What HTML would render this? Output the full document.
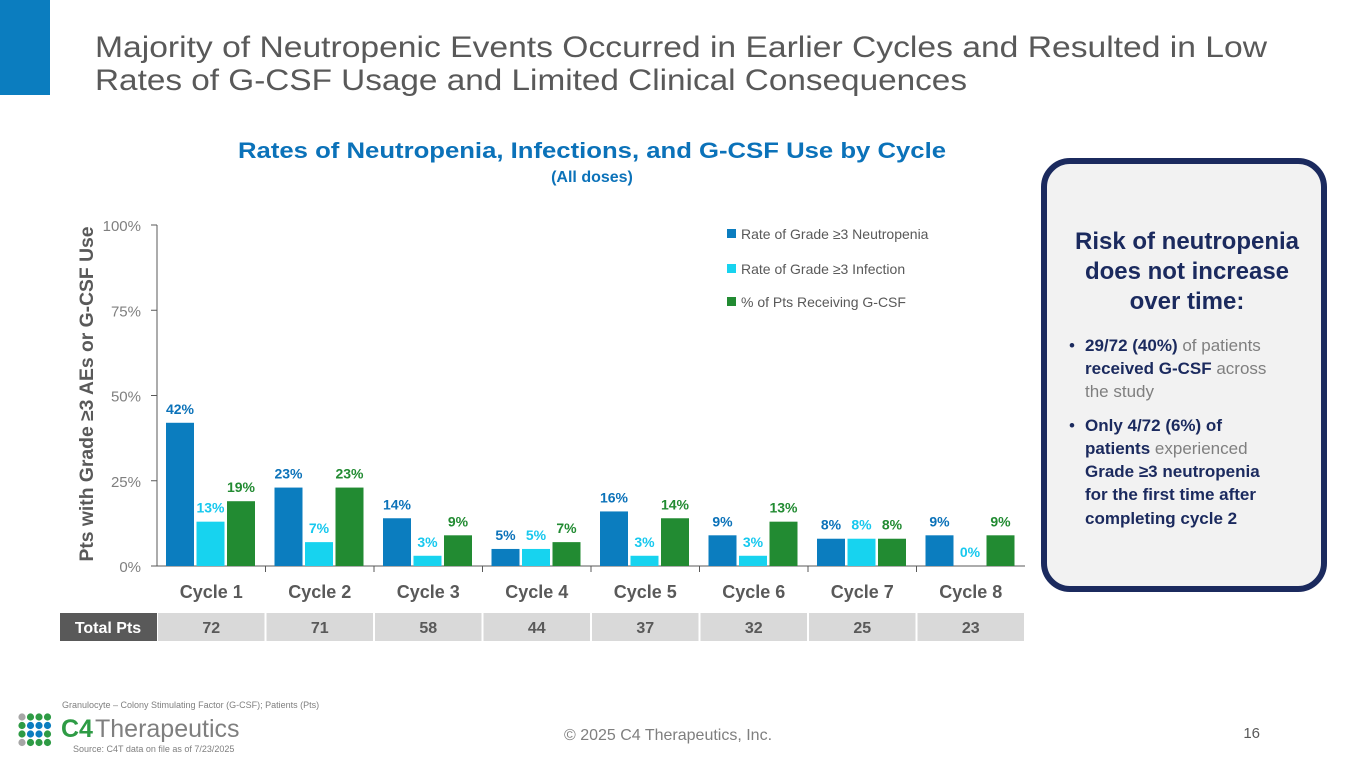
<!DOCTYPE html>
<html><head><meta charset="utf-8"><style>
html,body{margin:0;padding:0;background:#fff}
svg{display:block;font-family:"Liberation Sans",sans-serif}
</style></head><body>
<svg id="s" width="1365" height="768" viewBox="0 0 1365 768">
<rect x="0" y="0" width="50" height="95" fill="#0b7dbf"/>
<text x="95" y="57" font-size="30" fill="#595959" textLength="1172" lengthAdjust="spacingAndGlyphs">Majority of Neutropenic Events Occurred in Earlier Cycles and Resulted in Low</text>
<text x="95" y="90" font-size="30" fill="#595959" textLength="872" lengthAdjust="spacingAndGlyphs">Rates of G-CSF Usage and Limited Clinical Consequences</text>
<text x="592" y="158" font-size="22" font-weight="bold" fill="#0b72b9" text-anchor="middle" textLength="708" lengthAdjust="spacingAndGlyphs">Rates of Neutropenia, Infections, and G-CSF Use by Cycle</text>
<text x="592" y="182" font-size="16" font-weight="bold" fill="#0b72b9" text-anchor="middle">(All doses)</text>
<text transform="translate(93,394) rotate(-90)" font-size="19" font-weight="bold" fill="#595959" text-anchor="middle" textLength="335" lengthAdjust="spacingAndGlyphs">Pts with Grade ≥3 AEs or G-CSF Use</text>
<g id="chart"></g>
<g>
<rect x="727" y="229" width="9" height="9" fill="#0b7dbf"/>
<text x="741" y="239" font-size="14" fill="#595959">Rate of Grade ≥3 Neutropenia</text>
<rect x="727" y="264" width="9" height="9" fill="#17d3ef"/>
<text x="741" y="274" font-size="14" fill="#595959">Rate of Grade ≥3 Infection</text>
<rect x="727" y="297" width="9" height="9" fill="#228b32"/>
<text x="741" y="307" font-size="14" fill="#595959">% of Pts Receiving G-CSF</text>
</g>
<rect x="60" y="613" width="97" height="28" fill="#595959"/>
<text x="108" y="633" font-size="16" font-weight="bold" fill="#fff" text-anchor="middle">Total Pts</text>
<g id="totals"></g>
<rect x="1044" y="161" width="280" height="428" rx="26" fill="#f2f2f2" stroke="#1b2a5e" stroke-width="6"/>
<g font-weight="bold" fill="#1b2a5e" font-size="24" text-anchor="middle">
<text x="1187" y="249">Risk of neutropenia</text>
<text x="1187" y="279">does not increase</text>
<text x="1187" y="309">over time:</text>
</g>
<g font-size="17" fill="#7f7f7f">
<text x="1069" y="351" fill="#1b2a5e">•</text>
<text x="1085" y="351"><tspan font-weight="bold" fill="#1b2a5e">29/72 (40%)</tspan> of patients</text>
<text x="1085" y="374"><tspan font-weight="bold" fill="#1b2a5e">received G-CSF</tspan> across</text>
<text x="1085" y="397">the study</text>
<text x="1069" y="431" fill="#1b2a5e">•</text>
<text x="1085" y="431" font-weight="bold" fill="#1b2a5e">Only 4/72 (6%) of</text>
<text x="1085" y="454"><tspan font-weight="bold" fill="#1b2a5e">patients</tspan> experienced</text>
<text x="1085" y="477" font-weight="bold" fill="#1b2a5e">Grade ≥3 neutropenia</text>
<text x="1085" y="500" font-weight="bold" fill="#1b2a5e">for the first time after</text>
<text x="1085" y="524" font-weight="bold" fill="#1b2a5e">completing cycle 2</text>
</g>
<text x="62" y="708" font-size="9" fill="#7f7f7f">Granulocyte – Colony Stimulating Factor (G-CSF); Patients (Pts)</text>
<g id="logo"></g>
<text x="61" y="737" font-size="25" font-weight="bold" fill="#2e9b45">C4</text>
<text x="95" y="737" font-size="25" fill="#7f7f7f">Therapeutics</text>
<text x="73" y="752" font-size="9" fill="#7f7f7f">Source: C4T data on file as of 7/23/2025</text>
<text x="668" y="740" font-size="16" fill="#7f7f7f" text-anchor="middle">© 2025 C4 Therapeutics, Inc.</text>
<text x="1260" y="738" font-size="15" fill="#595959" text-anchor="end">16</text>
</svg>
<script>
const categories=["Cycle 1","Cycle 2","Cycle 3","Cycle 4","Cycle 5","Cycle 6","Cycle 7","Cycle 8"];
const neutropenia=[42,23,14,5,16,9,8,9];
const infection=[13,7,3,5,3,3,8,0];
const gcsf=[19,23,9,7,14,13,8,9];
const totalPts=[72,71,58,44,37,32,25,23];
const yTicks=[0,25,50,75,100];
const NS="http://www.w3.org/2000/svg";
const X0=157,CW=108.5,Y0=566,YH=341;
function y(v){return Y0-v/100*YH;}
function cx(i){return X0+i*CW;}
function mk(t,a,p){const e=document.createElementNS(NS,t);for(const k in a)e.setAttribute(k,a[k]);(p||document.getElementById('chart')).appendChild(e);return e;}
const ax=mk('line',{x1:X0,y1:y(100),x2:X0,y2:Y0,stroke:'#595959','stroke-width':1});


yTicks.forEach(t=>{
 const tk=mk('line',{x1:X0-6,x2:X0,y1:y(t),y2:y(t),stroke:'#595959'});
 
 
 const l=mk('text',{x:X0-16,y:y(t)+6,'font-size':15,fill:'#7f7f7f','text-anchor':'end'});l.textContent=t+'%';
 
 
});
const xa=mk('line',{x1:X0,y1:Y0,x2:X0+8*CW,y2:Y0,stroke:'#595959'});


const series=[[neutropenia,'#0b7dbf','#0b72b9'],[infection,'#17d3ef','#17c8ee'],[gcsf,'#228b32','#228b32']];
categories.forEach((c,i)=>{
 if(i>0){const t=mk('line',{x1:cx(i),x2:cx(i),y1:Y0,y2:Y0+6,stroke:'#595959'});
 
 }
 const cl=mk('text',{x:cx(i)+CW/2,y:Y0+32,'font-size':18,'font-weight':'bold',fill:'#595959','text-anchor':'middle'});cl.textContent=c;
 
 
 series.forEach((s,j)=>{
  const v=s[0][i];const bx=cx(i)+9+j*30.5;
  const r=mk('rect',{x:bx,y:y(v),width:28,height:Y0-y(v),fill:s[1]});
  
  
  const lb=mk('text',{x:bx+14,y:y(v)-9,'font-size':14,'font-weight':'bold',fill:s[2],'text-anchor':'middle'});lb.textContent=v+'%';
  
  
 });
 const tg=document.getElementById('totals');
 const cell=mk('rect',{x:cx(i)+1,y:613,width:CW-2,height:28,fill:'#d9d9d9'},tg);
 
 
 const tt=mk('text',{x:cx(i)+CW/2,y:633,'font-size':16,'font-weight':'bold',fill:'#595959','text-anchor':'middle'},tg);tt.textContent=totalPts[i];
 
 
});
const lg=document.getElementById('logo');
const dots=[['#a6a6a6','#2e9b45','#2e9b45','#2e9b45'],['#2e9b45','#0b7dbf','#0b7dbf','#0b7dbf'],['#2e9b45','#0b7dbf','#0b7dbf','#2e9b45'],['#a6a6a6','#2e9b45','#2e9b45','#2e9b45']];
dots.forEach((row,r)=>row.forEach((c,k)=>{const d=mk('circle',{cx:22+k*8.5,cy:717+r*8.5,r:3.6,fill:c},lg);
 
 }));
</script>
</body></html>
